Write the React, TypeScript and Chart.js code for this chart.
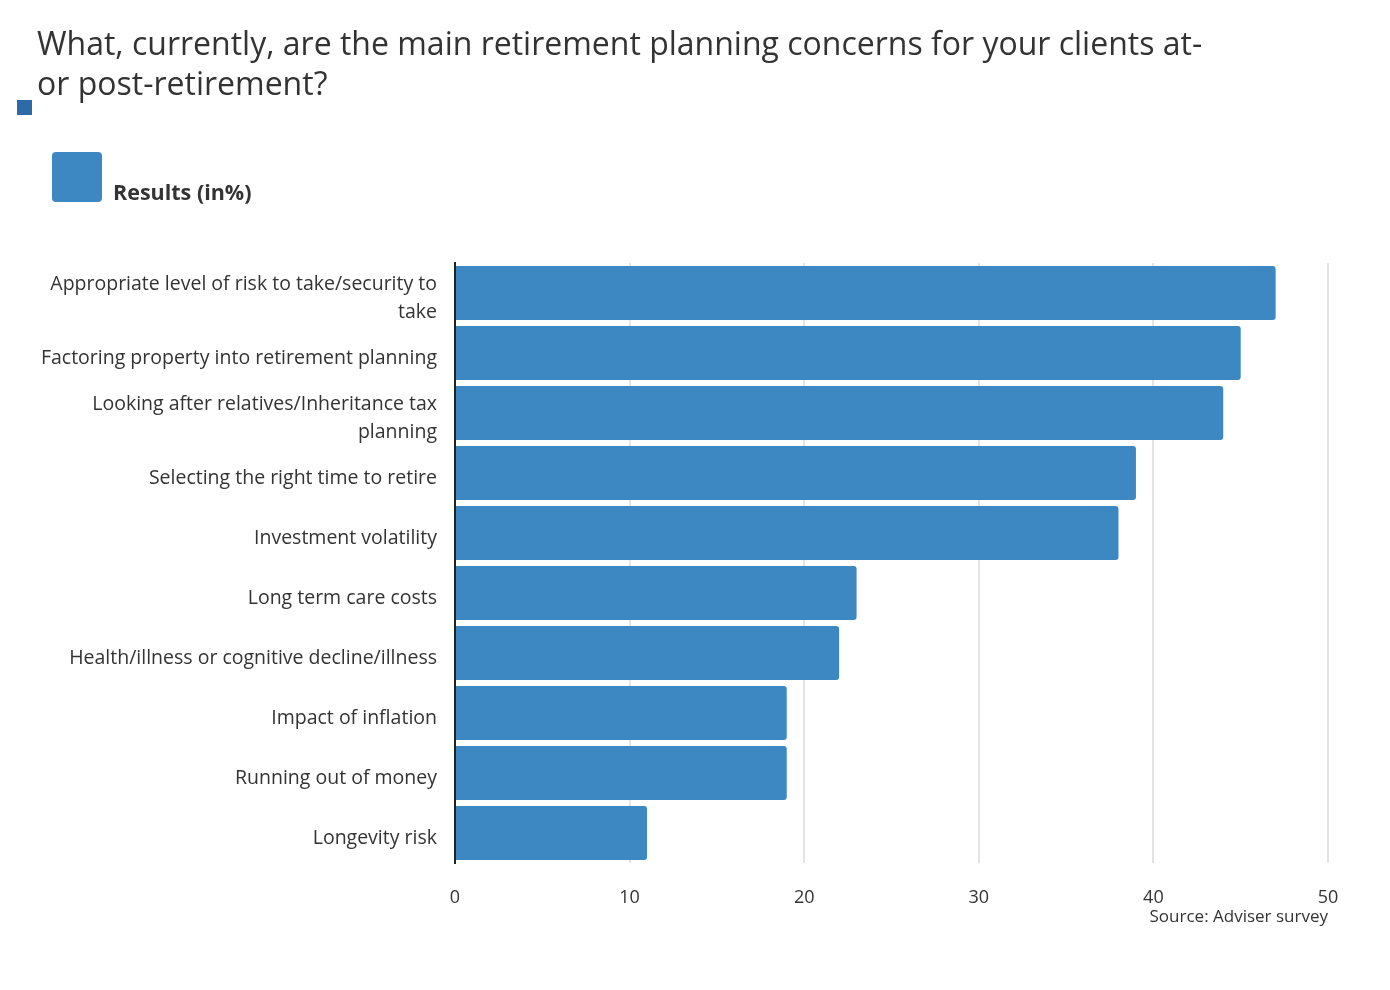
import React, { useEffect, useRef } from "react";
import { Chart, registerables } from "chart.js";

Chart.register(...registerables);

const titleLines = [
  "What, currently, are the main retirement planning concerns for your clients at-",
  "or post-retirement?",
];
const seriesName = "Results (in%)";
const sourceText = "Source: Adviser survey";

const categories: (string | string[])[] = [
  ["Appropriate level of risk to take/security to", "take"],
  "Factoring property into retirement planning",
  ["Looking after relatives/Inheritance tax", "planning"],
  "Selecting the right time to retire",
  "Investment volatility",
  "Long term care costs",
  "Health/illness or cognitive decline/illness",
  "Impact of inflation",
  "Running out of money",
  "Longevity risk",
];
const values = [47, 45, 44, 39, 38, 23, 22, 19, 19, 11];
const xTicks = [0, 10, 20, 30, 40, 50];

const FONT = "'Open Sans', Lato, sans-serif";
const BAR = "#3d88c3";
const TEXT = "#333333";

export default function App() {
  const ref = useRef<HTMLCanvasElement | null>(null);

  useEffect(() => {
    if (!ref.current) return;
    const chart = new Chart(ref.current, {
      type: "bar",
      data: {
        labels: categories,
        datasets: [
          {
            label: seriesName,
            data: values,
            backgroundColor: BAR,
            borderRadius: 3,
            borderSkipped: "start",
            categoryPercentage: 1,
            barPercentage: 0.9,
          },
        ],
      },
      options: {
        indexAxis: "y",
        animation: false,
        responsive: false,
        maintainAspectRatio: false,
        devicePixelRatio: 1,
        layout: { padding: { left: 0, right: 62, top: 263, bottom: 77 } },
        plugins: {
          legend: { display: false },
          title: { display: false },
          tooltip: { enabled: false },
        },
        scales: {
          x: {
            min: 0,
            max: 50,
            afterBuildTicks: (scale: any) => {
              scale.ticks = xTicks.map((v) => ({ value: v }));
            },
            afterFit: (scale: any) => {
              scale.height = 50;
            },
            grid: { color: "#e3e3e3", lineWidth: 2, drawTicks: false },
            border: { display: false },
            ticks: {
              color: TEXT,
              padding: 24,
              font: { family: FONT, size: 18 },
            },
          },
          y: {
            afterFit: (scale: any) => {
              scale.width = 455;
            },
            grid: { display: false, drawTicks: false },
            border: { display: true, color: "#222222", width: 2 },
            ticks: {
              color: TEXT,
              padding: 18,
              labelOffset: 5,
              font: { family: FONT, size: 19.5, lineHeight: 1.44 },
            },
          },
        },
      },
    });
    return () => chart.destroy();
  }, []);

  return (
    <div
      style={{
        position: "fixed",
        left: 0,
        top: 0,
        width: 1390,
        height: 990,
        background: "#ffffff",
        fontFamily: FONT,
        color: TEXT,
      }}
    >
      <canvas ref={ref} width={1390} height={990} style={{ position: "absolute", left: 0, top: 0 }} />
      {titleLines.map((t, i) => (
        <div
          key={i}
          style={{
            position: "absolute",
            left: 37,
            top: 23 + i * 40,
            fontSize: 32,
            lineHeight: "40px",
            whiteSpace: "nowrap",
            color: TEXT,
          }}
        >
          {t}
        </div>
      ))}
      <div style={{ position: "absolute", left: 17, top: 100, width: 15, height: 15, background: "#2f6aa8" }} />
      <div
        style={{ position: "absolute", left: 52, top: 152, width: 50, height: 50, background: BAR, borderRadius: 4 }}
      />
      <div
        style={{
          position: "absolute",
          left: 113,
          top: 178,
          fontSize: 21.5,
          fontWeight: 700,
          lineHeight: "28px",
          color: TEXT,
        }}
      >
        {seriesName}
      </div>
      <div
        style={{
          position: "absolute",
          right: 62,
          top: 905,
          fontSize: 17,
          lineHeight: "22px",
          color: TEXT,
          whiteSpace: "nowrap",
        }}
      >
        {sourceText}
      </div>
    </div>
  );
}
